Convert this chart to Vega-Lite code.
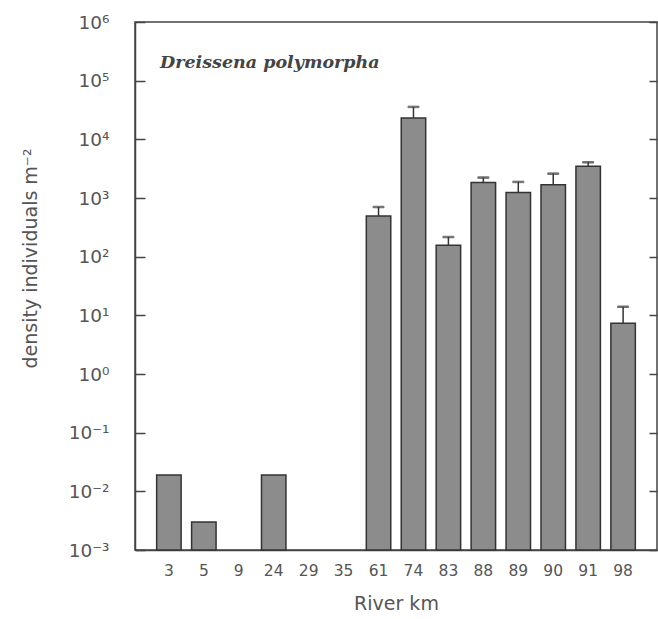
{
  "$schema": "https://vega.github.io/schema/vega-lite/v6.json",
  "width": 522,
  "height": 528,
  "autosize": {"type": "none"},
  "padding": {"left": 135, "top": 22, "right": 1, "bottom": 69},
  "background": "white",
  "title": {
    "text": "Dreissena polymorpha",
    "anchor": "start",
    "frame": "group",
    "dx": 25,
    "offset": -72,
    "baseline": "alphabetic",
    "font": "DejaVu Serif",
    "fontStyle": "italic",
    "fontWeight": "bold",
    "fontSize": 17.5,
    "color": "#444"
  },
  "config": {
    "view": {"stroke": "#444", "strokeWidth": 1.5},
    "axis": {
      "labelFont": "DejaVu Sans",
      "titleFont": "DejaVu Sans",
      "labelColor": "#555",
      "titleColor": "#555",
      "domainColor": "#444",
      "tickColor": "#444",
      "grid": false,
      "titleFontWeight": "normal"
    }
  },
  "data": {
    "values": [
      {"km": 3, "density": 0.019, "upper": null},
      {"km": 5, "density": 0.003, "upper": null},
      {"km": 9, "density": null, "upper": null},
      {"km": 24, "density": 0.019, "upper": null},
      {"km": 29, "density": null, "upper": null},
      {"km": 35, "density": null, "upper": null},
      {"km": 61, "density": 493, "upper": 702},
      {"km": 74, "density": 23200, "upper": 35700},
      {"km": 83, "density": 156, "upper": 216},
      {"km": 88, "density": 1830, "upper": 2230},
      {"km": 89, "density": 1240, "upper": 1880},
      {"km": 90, "density": 1690, "upper": 2600},
      {"km": 91, "density": 3470, "upper": 4060},
      {"km": 98, "density": 7.36, "upper": 14.0}
    ]
  },
  "encoding": {
    "x": {
      "field": "km",
      "type": "ordinal",
      "scale": {
        "domain": [3, 5, 9, 24, 29, 35, 61, 74, 83, 88, 89, 90, 91, 98],
        "paddingInner": 0.3,
        "paddingOuter": 0.62
      },
      "axis": {
        "title": "River km",
        "labelAngle": 0,
        "ticks": false,
        "labelFontSize": 15.5,
        "labelPadding": 13,
        "titleFontSize": 19,
        "titlePadding": 16,
        "domainWidth": 1.5
      }
    }
  },
  "layer": [
    {
      "mark": {"type": "bar", "fill": "#8c8c8c", "stroke": "#333", "strokeWidth": 1.5},
      "encoding": {
        "y": {
          "field": "density",
          "type": "quantitative",
          "stack": null,
          "scale": {"type": "log", "domain": [0.001, 1000000], "nice": false},
          "axis": {
            "title": "density individuals m⁻²",
            "values": [0.001, 0.01, 0.1, 1, 10, 100, 1000, 10000, 100000, 1000000],
            "labelExpr": "['10⁻³','10⁻²','10⁻¹','10⁰','10¹','10²','10³','10⁴','10⁵','10⁶'][round(log(datum.value)/LN10)+3]",
            "labelFontSize": 18.5,
            "tickSize": -10,
            "tickWidth": 1.5,
            "domainWidth": 1.5,
            "labelPadding": 36,
            "titleFontSize": 19,
            "titleX": -105,
            "titleY": 236,
            "titleAngle": -90,
            "titleAlign": "center",
            "titleBaseline": "middle"
          }
        }
      }
    },
    {
      "transform": [{"filter": "datum.upper != null"}],
      "mark": {"type": "rule", "stroke": "#333", "strokeWidth": 1.5},
      "encoding": {
        "y": {
          "field": "density",
          "type": "quantitative",
          "scale": {"type": "log", "domain": [0.001, 1000000], "nice": false},
          "axis": {
            "orient": "right",
            "title": null,
            "labels": false,
            "values": [0.001, 0.01, 0.1, 1, 10, 100, 1000, 10000, 100000, 1000000],
            "tickSize": -8,
            "tickWidth": 1.5,
            "domain": false
          }
        },
        "y2": {"field": "upper"}
      }
    },
    {
      "transform": [{"filter": "datum.upper != null"}],
      "mark": {"type": "tick", "stroke": "#333", "color": "#333", "size": 11, "thickness": 1.5},
      "encoding": {
        "y": {"field": "upper", "type": "quantitative", "axis": null}
      }
    }
  ],
  "resolve": {"axis": {"y": "independent"}}
}
